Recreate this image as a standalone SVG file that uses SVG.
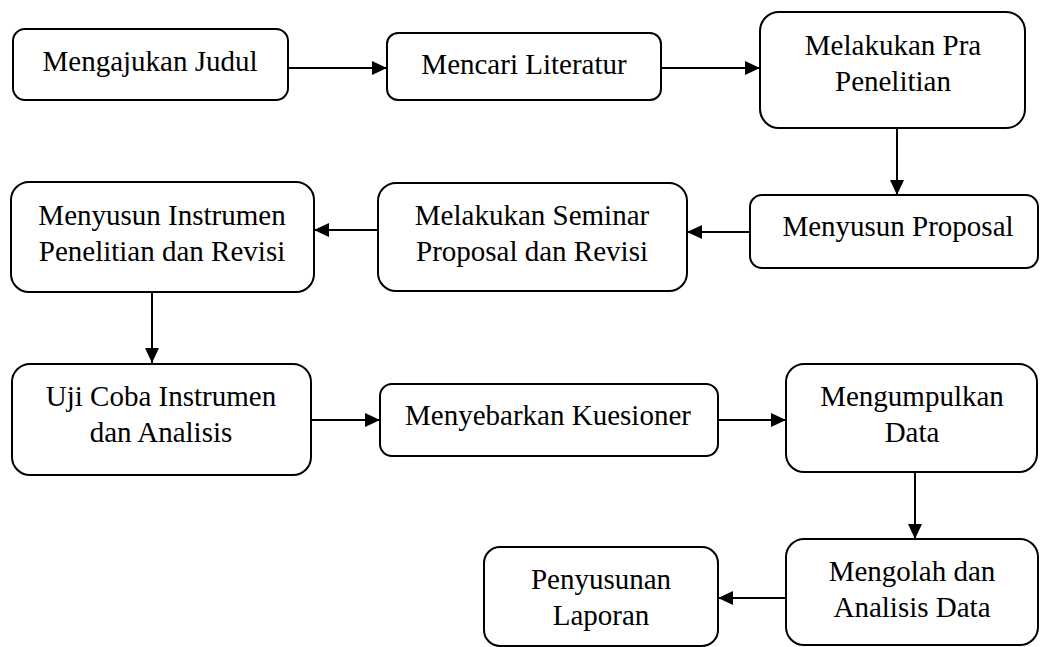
<svg xmlns="http://www.w3.org/2000/svg" width="1040" height="647" viewBox="0 0 1040 647">
<defs>
<style>
.box{fill:#fff;stroke:#000;stroke-width:2}
.t{font-family:"Liberation Serif","Times New Roman",serif;font-size:29px;fill:#000;text-anchor:middle}
.c{stroke:#000;stroke-width:2;fill:none;marker-end:url(#ah)}
</style>
<marker id="ah" markerUnits="userSpaceOnUse" markerWidth="15" markerHeight="14" refX="15" refY="7" orient="auto">
<path d="M0,0 L15,7 L0,14 z" fill="#000"/>
</marker>
</defs>
<rect width="1040" height="647" fill="#fff"/>
<g id="connectors">
<line class="c" x1="288" y1="68" x2="387" y2="68"/>
<line class="c" x1="661" y1="68" x2="760" y2="68"/>
<line class="c" x1="897" y1="128" x2="897" y2="195"/>
<line class="c" x1="750" y1="232" x2="687" y2="232"/>
<line class="c" x1="378" y1="230" x2="314" y2="230"/>
<line class="c" x1="152" y1="292" x2="152" y2="363"/>
<line class="c" x1="311" y1="420" x2="380" y2="420"/>
<line class="c" x1="718" y1="420" x2="786" y2="420"/>
<line class="c" x1="915" y1="472" x2="915" y2="539"/>
<line class="c" x1="786" y1="598" x2="718" y2="598"/>
</g>
<g id="n1"><rect class="box" x="13" y="29" width="275" height="71" rx="12"/><text class="t" x="150" y="71">Mengajukan Judul</text></g>
<g id="n2"><rect class="box" x="387" y="33" width="274" height="67" rx="11"/><text class="t" x="524" y="74">Mencari Literatur</text></g>
<g id="n3"><rect class="box" x="760" y="12" width="265" height="116" rx="19"/><text class="t" x="893" y="55">Melakukan Pra</text><text class="t" x="893" y="91">Penelitian</text></g>
<g id="n4"><rect class="box" x="750" y="195" width="288" height="73" rx="12"/><text class="t" x="898" y="236">Menyusun Proposal</text></g>
<g id="n5"><rect class="box" x="378" y="183" width="309" height="108" rx="18"/><text class="t" x="532" y="225">Melakukan Seminar</text><text class="t" x="532" y="261">Proposal dan Revisi</text></g>
<g id="n6"><rect class="box" x="11" y="182" width="303" height="110" rx="18"/><text class="t" x="162" y="225">Menyusun Instrumen</text><text class="t" x="162" y="261">Penelitian dan Revisi</text></g>
<g id="n7"><rect class="box" x="12" y="364" width="299" height="111" rx="18"/><text class="t" x="161" y="406">Uji Coba Instrumen</text><text class="t" x="161" y="442">dan Analisis</text></g>
<g id="n8"><rect class="box" x="380" y="384" width="338" height="72" rx="12"/><text class="t" x="548" y="425">Menyebarkan Kuesioner</text></g>
<g id="n9"><rect class="box" x="786" y="364" width="251" height="108" rx="18"/><text class="t" x="912" y="406">Mengumpulkan</text><text class="t" x="912" y="442">Data</text></g>
<g id="n10"><rect class="box" x="786" y="539" width="252" height="106" rx="18"/><text class="t" x="912" y="581">Mengolah dan</text><text class="t" x="912" y="617">Analisis Data</text></g>
<g id="n11"><rect class="box" x="484" y="547" width="234" height="99" rx="16"/><text class="t" x="601" y="589">Penyusunan</text><text class="t" x="601" y="625">Laporan</text></g>
</svg>
